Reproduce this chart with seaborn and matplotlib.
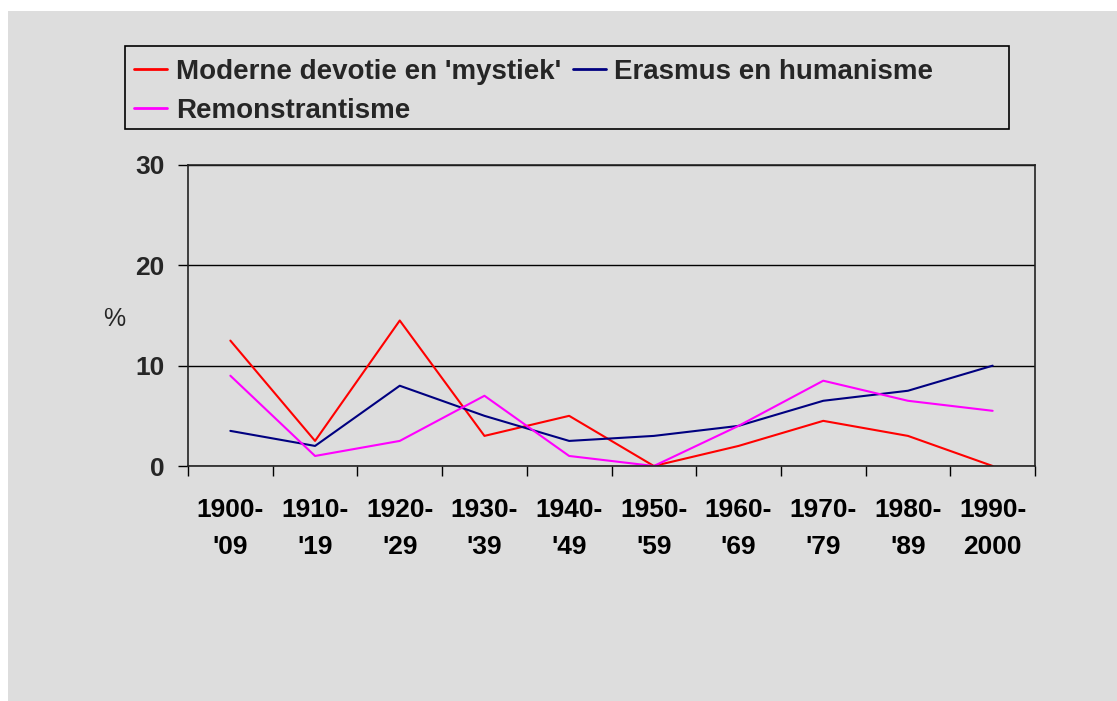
import matplotlib
matplotlib.use('Agg')
import matplotlib.pyplot as plt
from matplotlib.patches import Rectangle
import numpy as np
import pandas as pd
import seaborn as sns

# data
periods = ["1900-\n'09", "1910-\n'19", "1920-\n'29", "1930-\n'39", "1940-\n'49",
           "1950-\n'59", "1960-\n'69", "1970-\n'79", "1980-\n'89", "1990-\n2000"]
moderne_devotie = [12.5, 2.5, 14.5, 3, 5, 0, 2, 4.5, 3, 0]
erasmus = [3.5, 2, 8, 5, 2.5, 3, 4, 6.5, 7.5, 10]
remonstrantisme = [9, 1, 2.5, 7, 1, 0, 4, 8.5, 6.5, 5.5]

series_names = ["Moderne devotie en 'mystiek'", "Erasmus en humanisme", "Remonstrantisme"]
series_colors = ['#ff0000', '#000080', '#ff00ff']

df = pd.DataFrame({
    'idx': list(range(len(periods))) * 3,
    'value': moderne_devotie + erasmus + remonstrantisme,
    'serie': np.repeat(series_names, len(periods)),
})

sns.set_theme(style='white')
plt.rcParams['font.family'] = ['Liberation Sans', 'DejaVu Sans']

bg = '#dddddd'
fig = plt.figure(figsize=(11.17, 7.01), dpi=100, facecolor='white')
fig.patches.append(Rectangle((8 / 1117, 0), 1, 1 - 11 / 701, transform=fig.transFigure,
                             facecolor=bg, edgecolor='none', zorder=-10))

ax = fig.add_axes([188 / 1117, 1 - 466 / 701, (1035 - 188) / 1117, (466 - 165) / 701])
ax.set_facecolor(bg)

sns.lineplot(data=df, x='idx', y='value', hue='serie', palette=dict(zip(series_names, series_colors)),
             linewidth=1.5, ax=ax, legend=False)

ax.set_xlim(-0.5, len(periods) - 0.5)
ax.set_ylim(0, 30)
ax.set_yticks([0, 10, 20, 30])
ax.set_yticklabels(['0', '10', '20', '30'], fontsize=19, fontweight='bold')
ax.set_xticks(range(len(periods)))
ax.set_xticklabels(periods, fontsize=19, fontweight='bold', linespacing=1.68)
ax.set_xticks(np.arange(-0.5, len(periods)), minor=True)
ax.tick_params(axis='x', which='major', length=0, pad=23, colors='black')
ax.tick_params(axis='x', which='minor', length=7, width=1, direction='out', color='black', bottom=True)
ax.tick_params(axis='y', length=7, width=1, direction='out', color='black', left=True, pad=10)
ax.yaxis.grid(True, color='black', linewidth=1)
ax.set_axisbelow(True)
for s in ax.spines.values():
    s.set_color('#222222')
    s.set_linewidth(1.2)

ax.set_xlabel('')
ax.set_ylabel('%', rotation=0, fontsize=18, va='center', ha='center')
ax.yaxis.set_label_coords(-0.087, 0.487)

# legend, row-wise order in two columns
handles = [plt.Line2D([], [], color=c, linewidth=2) for c in series_colors]
order = [0, 2, 1]
fig.legend([handles[i] for i in order], [series_names[i] for i in order], ncol=2,
           loc='upper left', bbox_to_anchor=(134 / 1117, 1 - 59 / 701), frameon=False,
           prop={'size': 20, 'weight': 'bold'}, handlelength=1.2, handletextpad=0.3,
           columnspacing=0.42, labelspacing=0.45, borderaxespad=0, borderpad=0)
fig.patches.append(Rectangle((125 / 1117, 1 - 129 / 701), (1009 - 125) / 1117, (129 - 46) / 701,
                             transform=fig.transFigure, facecolor='none', edgecolor='black',
                             linewidth=1.2, zorder=5))

fig.savefig('out.png', dpi=100, facecolor='white')
